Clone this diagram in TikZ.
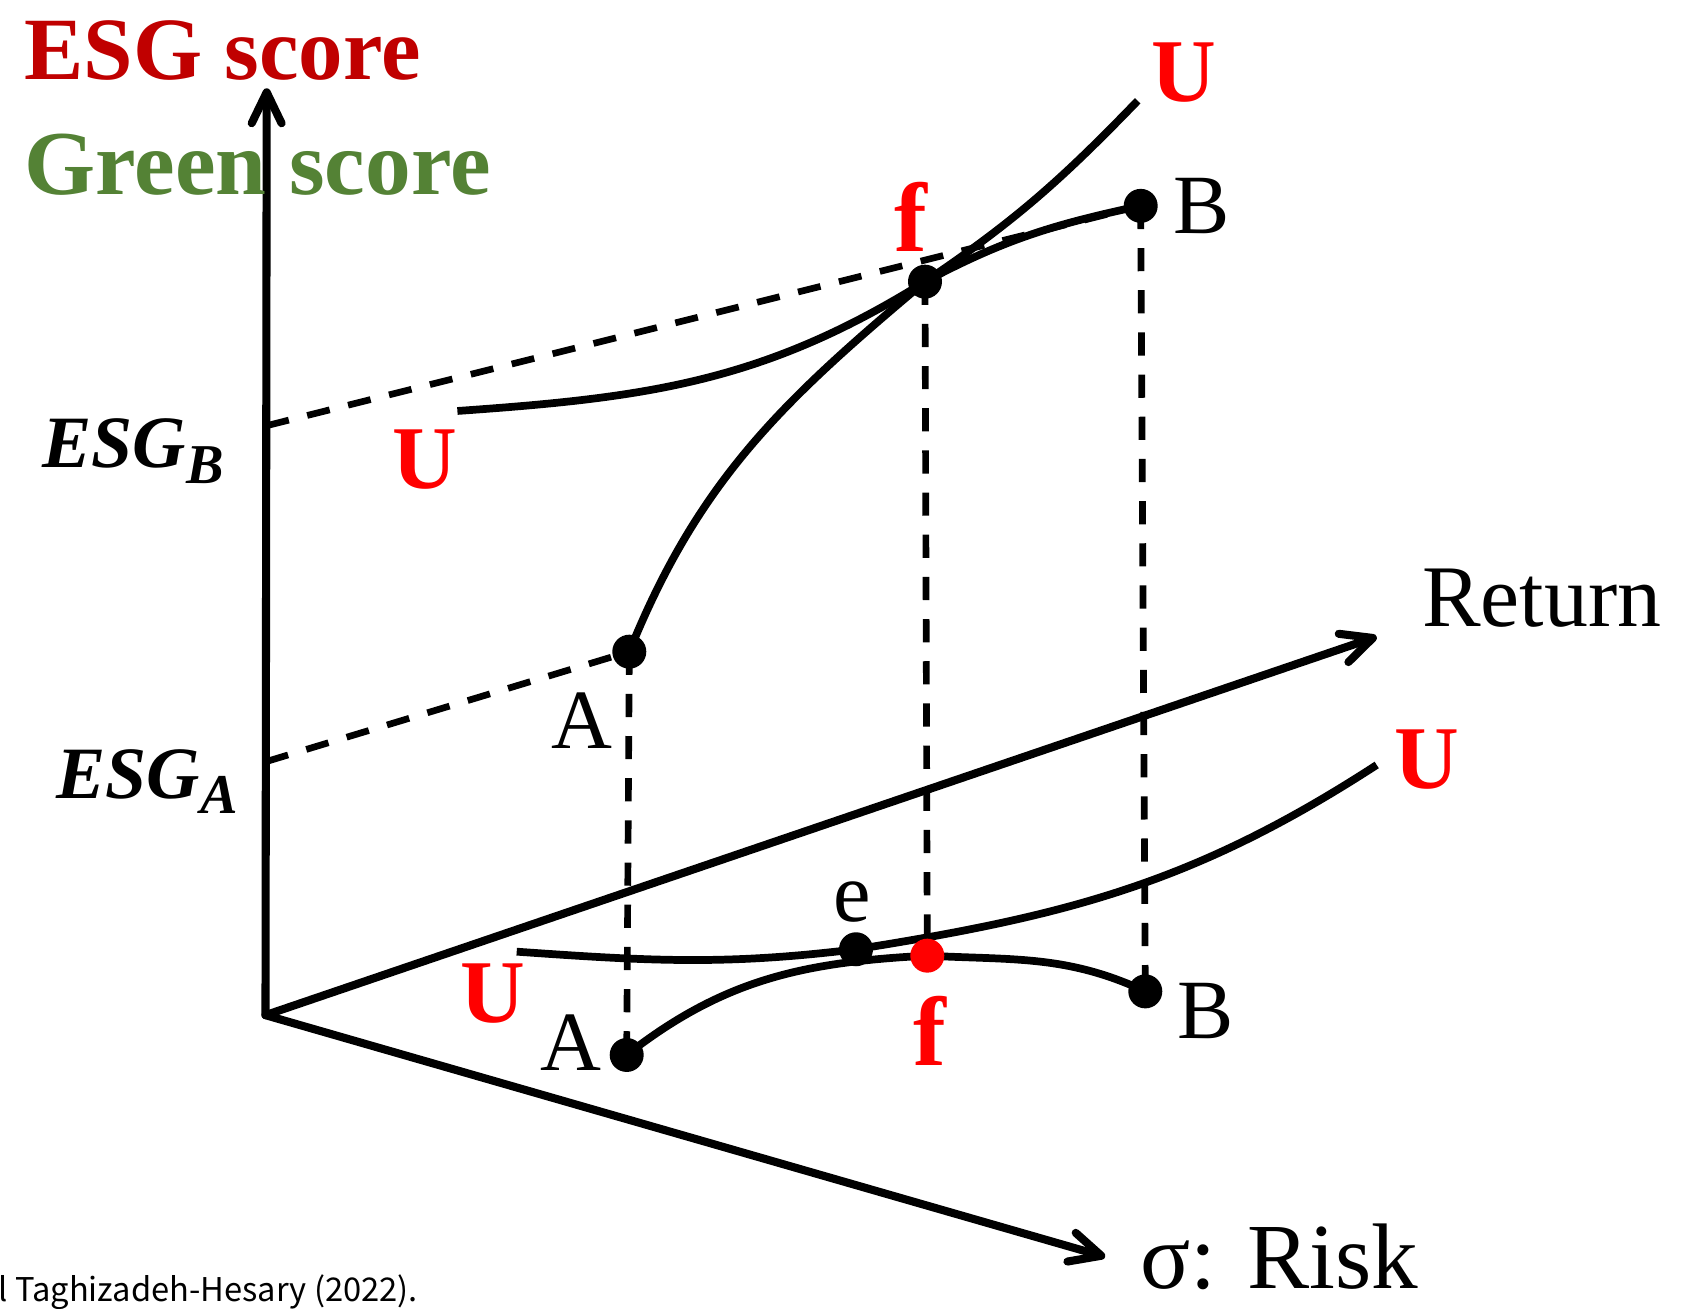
\documentclass[tikz,border=0pt]{standalone}
\usepackage{fontspec}
\setmainfont{Liberation Serif}
\newfontfamily\notefont{Noto Sans CJK JP}
\usepackage{tikz}
\usetikzlibrary{arrows.meta, positioning, backgrounds}
\definecolor{myred}{RGB}{192,0,0}
\definecolor{mygreen}{RGB}{84,130,53}
\definecolor{mybright}{RGB}{255,0,0}
\newcommand{\esglabel}[1]{ESG\raisebox{-4.3pt}{\fontsize{16}{18}\selectfont #1}}
\tikzset{
  axis/.style={-{Straight Barb[length=8.8pt,width=8.5pt,round]}, line width=2.3pt, line cap=round},
  curve/.style={line width=2.2pt},
  guide/.style={line width=1.9pt, dash pattern=on 6.6pt off 5.4pt},
  lbl/.style={inner sep=0pt, font=\fontsize{24}{28}\selectfont},
  ulbl/.style={inner sep=0pt, text=mybright, font=\fontsize{25.5}{30}\selectfont\bfseries},
  flbl/.style={inner sep=0pt, text=mybright, font=\fontsize{28}{32}\selectfont\bfseries},
  title/.style={anchor=base west, inner sep=0pt, font=\fontsize{26}{30}\selectfont\bfseries},
  esglbl/.style={anchor=base west, inner sep=0pt, font=\fontsize{21}{25}\selectfont\bfseries\itshape}
}

\begin{document}
\begin{tikzpicture}[
  dot/.style={circle, fill=black, inner sep=0pt, minimum size=0.34cm},
  reddot/.style={dot, fill=mybright}]
  \useasboundingbox (0,0) rectangle (16.99,13.09);

  % Axes
  \coordinate (o) at (2.655,2.938);
  \coordinate (esgtip) at (2.667,12.207);
  \coordinate (rettip) at (13.767,6.723);
  \coordinate (risktip) at (11.052,0.521);
  \coordinate (esgb) at (2.663,8.832);
  \coordinate (esga) at (2.659,5.473);

  % Frontier points
  \node[dot] (ua) at (6.293,6.573) {};
  \node[dot] (uf) at (9.25,10.273) {};
  \node[dot] (ub) at (11.407,11.031) {};
  \node[dot] (la) at (6.267,2.54) {};
  \node[dot] (le) at (8.56,3.597) {};
  \node[reddot] (lf) at (9.273,3.533) {};
  \node[dot] (lb) at (11.453,3.176) {};

  % Ends of the U curves
  \coordinate (uu1) at (4.574,8.98);
  \coordinate (uu2) at (11.377,12.082);
  \coordinate (lu1) at (5.167,3.573);
  \coordinate (lu2) at (13.767,5.44);

  \begin{scope}[on background layer]
    \draw[axis] (o) -- (esgtip);
    \draw[axis] (o) -- (rettip);
    \draw[axis] (o) -- (risktip);

    % Dashed guides
    \draw[guide] (esgb) -- (ub.center);
    \draw[guide] (esga) -- (ua.center);
    \draw[guide] (ua.center) -- (la.center);
    \draw[guide] (uf.center) -- (lf.center);
    \draw[guide] (ub.center) -- (lb.center);

    % Frontiers and U curves
    \draw[curve] (ua.center) to[out=68,in=220] (uf.center) to[out=28,in=192] (ub.center);
    \draw[curve] (uu1) to[out=4,in=212] (uf.center) to[out=34,in=226] (uu2);
    \draw[curve] (la.center) to[out=38,in=183] (lf.center) to[out=-3,in=155] (lb.center);
    \draw[curve] (lu1) to[out=-4,in=187] (le.center) to[out=9,in=213] (lu2);
  \end{scope}

  % Point labels
  \node[ulbl] (utr) at (11.843,12.363) {U};
  \node[ulbl] (utl) at (4.25,8.495) {U};
  \node[ulbl] (ubr) at (14.27,5.49) {U};
  \node[ulbl] (ubl) at (4.93,3.154) {U};
  \node[flbl] (fup) at (9.105,10.92) {f};
  \node[flbl] (fdown) at (9.30,2.78) {f};
  \node[lbl, right=0.14cm of ub] (bup) {B};
  \node[lbl] (bdown) at (12.06,2.98) {B};
  \node[lbl] (aup) at (5.818,5.885) {A};
  \node[lbl] (adown) at (5.71,2.66) {A};
  \node[lbl] (elbl) at (8.525,4.07) {e};

  % Axis titles
  \node[title, text=myred, font=\fontsize{25.3}{30}\selectfont\bfseries] (esgtitle) at (0.238,12.29) {ESG score};
  \node[title, text=mygreen] (greentitle) at (0.238,11.14) {Green score};
  \node[esglbl] (esgblbl) at (0.42,8.41) {\esglabel{B}};
  \node[esglbl] (esgalbl) at (0.56,5.105) {\esglabel{A}};
  \node[anchor=base west, inner sep=0pt, font=\fontsize{25}{28}\selectfont] (retlbl) at (14.216,6.827) {Return};
  \node[anchor=base west, inner sep=0pt, font=\fontsize{26.5}{30}\selectfont] (risklbl) at (11.398,0.2) {σ: Risk};
  \node[anchor=base west, inner sep=0pt, font=\notefont\fontsize{9.3}{11}\selectfont] (source) at (-0.02,0.07) {l Taghizadeh-Hesary (2022).};
\end{tikzpicture}
\end{document}
